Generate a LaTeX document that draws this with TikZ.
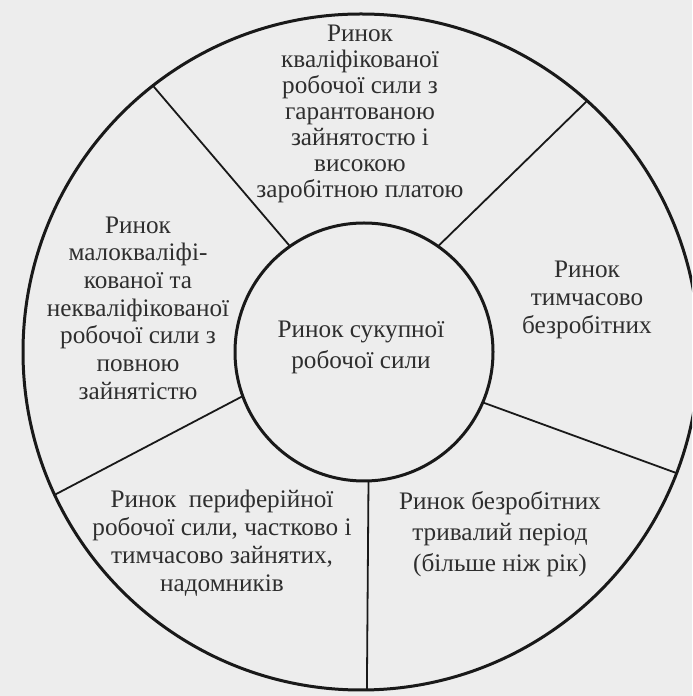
\documentclass[tikz,border=0pt]{standalone}
\usepackage{fontspec}
\setmainfont{Liberation Serif}
\begin{document}
\begin{tikzpicture}[x=0.5pt,y=0.5pt,
  ring/.style={line width=1.5pt, draw=black!90, circle, inner sep=0pt, outer sep=0pt},
  divider/.style={line width=0.9pt, draw=black!90},
  lbl/.style={align=center, inner sep=0pt, text=black!82}]
\useasboundingbox (0,0) rectangle (692,696);
\fill[black!7] (0,0) rectangle (692,696);
\begin{scope}
\clip (0,0) rectangle (692,696);
\node[ring, minimum size=338pt] (outer) at (361,344) {};
\node[ring, minimum size=129pt] (inner) at (364,344) {};
\draw[divider] (inner.125.2) -- (outer.128.45);
\draw[divider] (inner.55.8) -- (outer.48.27);
\draw[divider] (inner.200.9) -- (outer.205.4);
\draw[divider] (inner.337.9) -- (outer.339.4);
\draw[divider] (inner.272.6) -- (outer.271.5);
\end{scope}
\node[lbl, font=\fontsize{12.6}{15.5}\selectfont] (ctr) at (361,348.5) {Ринок сукупної\\робочої сили};
\node[lbl, font=\fontsize{12.6}{13}\selectfont] (top) at (360,582) {Ринок\\кваліфікованої\\робочої сили з\\гарантованою\\зайнятостю і\\високою\\заробітною платою};
\node[lbl, font=\fontsize{12.6}{13.85}\selectfont] (left) at (138,388) {Ринок\\малокваліфі-\\кованої та\\некваліфікованої\\робочої сили з\\повною\\зайнятістю};
\node[lbl, font=\fontsize{12.6}{14}\selectfont] (right) at (587,396) {Ринок\\тимчасово\\безробітних};
\node[lbl, font=\fontsize{12.6}{14}\selectfont] (lowleft) at (222,152.5) {Ринок\ \ периферійної\\робочої сили, частково і\\тимчасово зайнятих,\\надомників};
\node[lbl, font=\fontsize{12.6}{15.5}\selectfont] (lowright) at (500,161.5) {Ринок безробітних\\тривалий період\\(більше ніж рік)};
\end{tikzpicture}
\end{document}
